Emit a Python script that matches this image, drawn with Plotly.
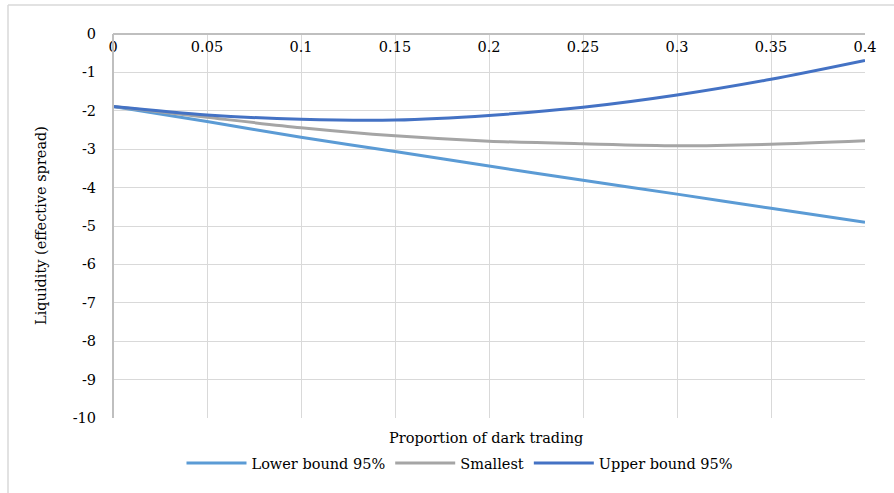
import plotly.graph_objects as go

# Data
x_vals = [0, 0.05, 0.1, 0.15, 0.2, 0.25, 0.3, 0.35, 0.4]
lower_bound = [-1.89, -2.28, -2.69, -3.06, -3.44, -3.81, -4.17, -4.54, -4.90]
smallest = [-1.89, -2.17, -2.44, -2.65, -2.79, -2.86, -2.91, -2.87, -2.78]
upper_bound = [-1.89, -2.11, -2.22, -2.24, -2.12, -1.91, -1.59, -1.18, -0.69]
x_ticks = [0, 0.05, 0.1, 0.15, 0.2, 0.25, 0.3, 0.35, 0.4]
x_tick_labels = ["0", "0.05", "0.1", "0.15", "0.2", "0.25", "0.3", "0.35", "0.4"]
y_ticks = [0, -1, -2, -3, -4, -5, -6, -7, -8, -9, -10]
y_tick_labels = ["0", "-1", "-2", "-3", "-4", "-5", "-6", "-7", "-8", "-9", "-10"]

FONT = "DejaVu Serif"
FS = 14.5

fig = go.Figure()
series = [
    ("Lower bound 95%", lower_bound, "#5B9BD5"),
    ("Smallest", smallest, "#A5A5A5"),
    ("Upper bound 95%", upper_bound, "#4472C4"),
]
for name, vals, color in series:
    fig.add_trace(go.Scatter(
        x=x_vals, y=vals, name=name, mode="lines",
        line=dict(color=color, width=3, shape="spline", smoothing=0.8),
    ))

W, H = 894, 493
L, R, T, B = 113, 29, 34, 75
pw, ph = W - L - R, H - T - B

def px_to_paper_x(px):
    return (px - L) / pw

def px_to_paper_y(py):
    return (H - B - py) / ph

fig.update_layout(
    width=W, height=H,
    margin=dict(l=L, r=R, t=T, b=B, pad=0),
    paper_bgcolor="white", plot_bgcolor="white",
    font=dict(family=FONT, size=FS, color="black"),
    showlegend=True,
    legend=dict(
        orientation="h", x=px_to_paper_x(460), xanchor="center",
        y=px_to_paper_y(463), yanchor="middle",
        font=dict(family=FONT, size=FS), itemwidth=60,
        bgcolor="rgba(0,0,0,0)",
    ),
    xaxis=dict(
        range=[0, 0.4], tickvals=x_ticks, ticktext=x_tick_labels,
        anchor="free", position=1, side="bottom",
        showgrid=True, gridcolor="#D9D9D9", gridwidth=1.3,
        showline=True, linecolor="#BFBFBF", linewidth=2,
        zeroline=False, ticks="", tickfont=dict(family=FONT, size=FS),
    ),
    yaxis=dict(
        range=[-10, 0], tickvals=y_ticks, ticktext=y_tick_labels,
        showgrid=True, gridcolor="#D9D9D9", gridwidth=1.3,
        zeroline=False, showline=False, ticks="",
        ticklabelstandoff=16,
        tickfont=dict(family=FONT, size=FS),
    ),
    annotations=[
        dict(text="Proportion of dark trading", xref="paper", yref="paper",
             x=px_to_paper_x(486), y=px_to_paper_y(438), xanchor="center", yanchor="middle",
             showarrow=False, font=dict(family=FONT, size=FS)),
        dict(text="Liquidity (effective spread)", xref="paper", yref="paper",
             x=px_to_paper_x(41), y=px_to_paper_y(226), xanchor="center", yanchor="middle",
             textangle=-90, showarrow=False, font=dict(family=FONT, size=FS)),
    ],
    shapes=[
        dict(type="line", xref="paper", yref="paper",
             x0=px_to_paper_x(113), x1=px_to_paper_x(113), y0=0, y1=1,
             line=dict(color="#BFBFBF", width=2)),
        dict(type="line", xref="paper", yref="paper",
             x0=px_to_paper_x(8), x1=px_to_paper_x(900), y0=px_to_paper_y(5), y1=px_to_paper_y(5),
             line=dict(color="#D9D9D9", width=1.5)),
        dict(type="line", xref="paper", yref="paper",
             x0=px_to_paper_x(8), x1=px_to_paper_x(8), y0=px_to_paper_y(5), y1=px_to_paper_y(500),
             line=dict(color="#D9D9D9", width=1.5)),
    ],
)

fig.write_html("out.html")
